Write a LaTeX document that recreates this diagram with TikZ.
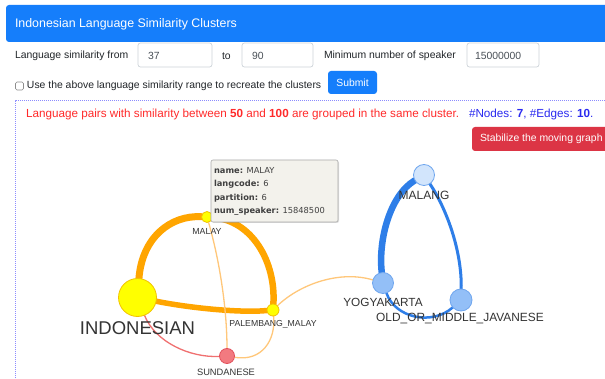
\documentclass[tikz,border=0pt]{standalone}
\usepackage{fontspec}
\setmainfont{Liberation Sans}
\newfontfamily\tipfont{DejaVu Sans}
\usetikzlibrary{shadows}

\definecolor{hdrblue}{HTML}{157EFB}
\definecolor{btnred}{HTML}{DC3545}
\definecolor{uitext}{HTML}{212529}
\definecolor{inputtext}{HTML}{495057}
\definecolor{inputborder}{HTML}{CED4DA}
\definecolor{msgred}{HTML}{FF2A2A}
\definecolor{msgblue}{HTML}{2A2AF0}
\definecolor{frameblue}{HTML}{8C8CFF}
\definecolor{lbltext}{HTML}{343434}
\definecolor{orangeedge}{HTML}{FFA500}
\definecolor{paleorange}{HTML}{FFC77A}
\definecolor{rededge}{HTML}{F07070}
\definecolor{blueedge}{HTML}{2E7EE8}
\definecolor{yellownode}{HTML}{FFFF00}
\definecolor{yellowrim}{HTML}{F2C200}
\definecolor{pinknode}{HTML}{F27A80}
\definecolor{pinkrim}{HTML}{E2505C}
\definecolor{bluerim}{HTML}{6FA6EE}
\definecolor{lightbluenode}{HTML}{D2E5FC}
\definecolor{midbluenode}{HTML}{93BFF7}
\definecolor{tipfill}{HTML}{F3F2EC}
\definecolor{tipborder}{HTML}{AAAAAA}

\pgfdeclarelayer{bg}
\pgfdeclarelayer{edges}
\pgfsetlayers{bg,edges,main}

\newcommand{\fsz}[1]{\fontsize{#1}{#1}\selectfont}

\begin{document}
\begin{tikzpicture}[x=1pt,y=-1pt,
  every node/.style={inner sep=0pt, outer sep=0pt},
  ui/.style={font=\fsz{10.4}, text=uitext, anchor=west},
  msg/.style={font=\fsz{11.7}, anchor=west},
  inval/.style={font=\fsz{10.4}, text=inputtext, anchor=west},
  inputbox/.style={draw=inputborder, fill=white, rounded corners=2.5pt,
    line width=0.7pt, anchor=north west, minimum height=24pt},
  btn/.style={rounded corners=3pt, anchor=north west, text=white,
    font=\fsz{10.4}},
  gnode/.style={circle, line width=0.8pt},
  glabel/.style={text=lbltext},
  heavyorange/.style={draw=orangeedge, line cap=round},
  lightorange/.style={draw=paleorange, line width=1.3pt},
  heavyblue/.style={draw=blueedge, line cap=round},
  tipline/.style={font=\tipfont\fsz{8.3}, text=black!75, anchor=west},
]
\useasboundingbox (0,0) rectangle (605,379);
\begin{pgfonlayer}{bg}
  \fill[white] (0,0) rectangle (605,379);
\end{pgfonlayer}

% ---- header bar
\node[fill=hdrblue, rounded corners=3pt, anchor=north west,
  minimum width=610pt, minimum height=37pt] (header) at (6,5) {};
\node[font=\fsz{12.4}, text=white, anchor=west] (title) at (15,24)
  {Indonesian Language Similarity Clusters};

% ---- first form row
\node[ui] (fromlbl) at (15,56) {Language similarity from};
\node[inputbox, minimum width=74pt] (frombox) at (138,43) {};
\node[inval] (fromval) at (148,56) {37};
\node[ui] (tolbl) at (222,56) {to};
\node[inputbox, minimum width=71pt] (tobox) at (242,43) {};
\node[inval] (toval) at (252,56) {90};
\node[ui] (spklbl) at (324,56) {Minimum number of speaker};
\node[inputbox, minimum width=72pt] (spkbox) at (467,43) {};
\node[inval] (spkval) at (475,56) {15000000};

% ---- second form row
\node[draw=black!45, fill=white, rounded corners=1.5pt, line width=0.6pt,
  minimum size=8pt] (check) at (19.5,86) {};
\node[ui] (checklbl) at (27,86)
  {Use the above language similarity range to recreate the clusters};
\node[btn, fill=hdrblue, minimum width=49pt, minimum height=23pt] (submit)
  at (328,71) {};
\node[font=\fsz{10.4}, text=white] (submittxt) at (352.5,82.5) {Submit};

% ---- graph panel frame
\draw[frameblue, line width=1pt, densely dotted] (15,380) -- (15,101) -- (606,101);

\node[msg, text=msgred] (msgtxt) at (26,114)
  {Language pairs with similarity between \textbf{50} and \textbf{100} are grouped in the same cluster.};
\node[msg, text=msgblue] (counts) at (469,114)
  {\#Nodes: \textbf{7}, \#Edges: \textbf{10}.};

\node[btn, fill=btnred, minimum width=150pt, minimum height=24pt] (stab)
  at (472,127) {};
\node[font=\fsz{10.4}, text=white, anchor=west] (stabtxt) at (480,139)
  {Stabilize the moving graph};

% ---- graph nodes
\node[gnode, fill=yellownode, draw=yellowrim, minimum size=38pt] (ind) at (137.5,297.5) {};
\node[gnode, fill=yellownode, draw=yellowrim, minimum size=11pt] (malay) at (207,217) {};
\node[gnode, fill=yellownode, draw=yellowrim, minimum size=12pt] (pal) at (273,310) {};
\node[gnode, fill=pinknode, draw=pinkrim, minimum size=15pt] (sun) at (227,356) {};
\node[gnode, fill=lightbluenode, draw=bluerim, minimum size=21pt] (malang) at (424,175) {};
\node[gnode, fill=midbluenode, draw=bluerim, minimum size=21pt] (yog) at (383,283) {};
\node[gnode, fill=midbluenode, draw=bluerim, minimum size=22pt] (old) at (461,300) {};

% ---- graph edges
\begin{pgfonlayer}{edges}
  \draw[heavyorange, line width=7pt] (ind) .. controls (142,238) and (170,215) .. (malay);
  \draw[heavyorange, line width=6.5pt] (malay) .. controls (252,220) and (276,262) .. (pal);
  \draw[heavyorange, line width=5.5pt] (ind) .. controls (190,308) and (240,313) .. (pal);
  \draw[lightorange] (malay) .. controls (220,262) and (227,310) .. (sun);
  \draw[lightorange] (pal) .. controls (276,340) and (262,362) .. (sun);
  \draw[lightorange] (pal) .. controls (300,284) and (340,270) .. (yog);
  \draw[rededge, line width=1.3pt] (ind) .. controls (155,342) and (190,358) .. (sun);
  \draw[heavyblue, line width=6.5pt] (malang) .. controls (390,195) and (378,240) .. (yog);
  \draw[heavyblue, line width=3pt] (malang) .. controls (446,208) and (462,250) .. (old);
  \draw[heavyblue, line width=2.5pt] (yog) .. controls (395,318) and (432,326) .. (old);
\end{pgfonlayer}

% ---- node labels
\node[glabel, font=\fsz{18.5}] (indlbl) at (137.5,328) {INDONESIAN};
\node[glabel, font=\fsz{8.8}] (malaylbl) at (207,231) {MALAY};
\node[glabel, font=\fsz{8.7}] (pallbl) at (273,324) {PALEMBANG\_MALAY};
\node[glabel, font=\fsz{9.3}] (sunlbl) at (226,372) {SUNDANESE};
\node[glabel, font=\fsz{12}] (malanglbl) at (424,195) {MALANG};
\node[glabel, font=\fsz{11.8}] (yoglbl) at (383,302) {YOGYAKARTA};
\node[glabel, font=\fsz{11.9}] (oldlbl) at (460,319) {OLD\_OR\_MIDDLE\_JAVANESE};

% ---- hover tooltip
\node[fill=tipfill, draw=tipborder, line width=0.6pt, rounded corners=2pt,
  anchor=north west, minimum width=127pt, minimum height=62pt,
  drop shadow={opacity=0.25, shadow xshift=1pt, shadow yshift=-1pt}] (tip) at (211,160) {};
\node[tipline] (tipname) at (214,171) {\textbf{name:} MALAY};
\node[tipline] (tipcode) at (214,184.5) {\textbf{langcode:} 6};
\node[tipline] (tippart) at (214,198) {\textbf{partition:} 6};
\node[tipline] (tipspk) at (214,211.5) {\textbf{num\_speaker:} 15848500};
\end{tikzpicture}
\end{document}
